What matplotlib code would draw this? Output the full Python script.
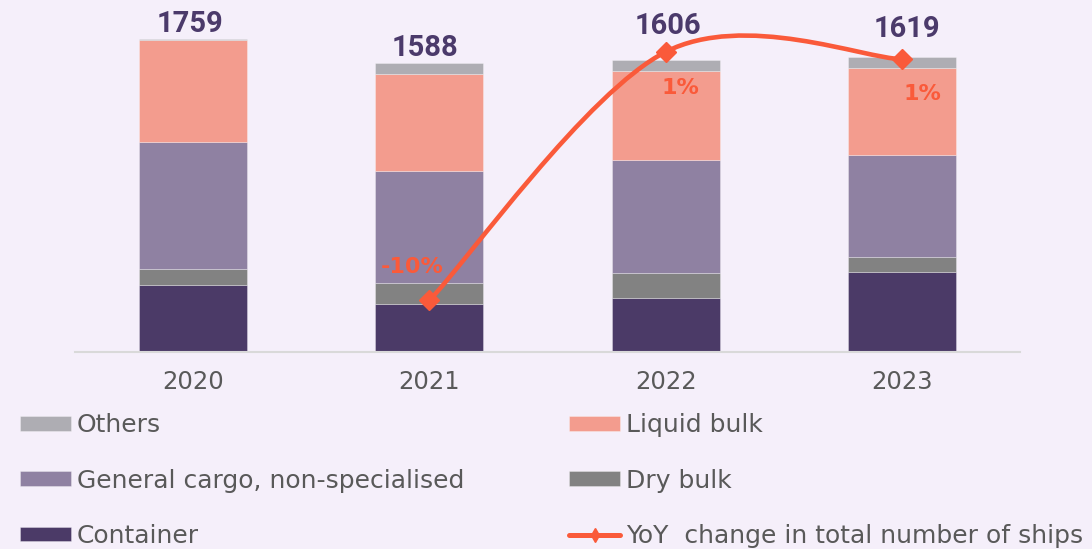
import matplotlib

matplotlib.use("Agg")
import matplotlib.pyplot as plt
from matplotlib.lines import Line2D
from matplotlib.patches import PathPatch
from matplotlib.path import Path

plt.rcParams["font.family"] = ["DejaVu Sans"]

years = ["2020", "2021", "2022", "2023"]
container = [368, 264, 297, 440]
dry_bulk = [88, 116, 138, 83]
general_cargo = [699, 616, 622, 561]
liquid_bulk = [561, 534, 490, 479]
others = [6, 60, 60, 60]
totals = [1759, 1588, 1606, 1619]
yoy_years = [1, 2, 3]
yoy_change = [-9.72, 1.13, 0.81]
yoy_labels = ["-10%", "1%", "1%"]

BG = "#F5EFFA"
SERIES = [
    ("Container", container, "#4B3A67"),
    ("Dry bulk", dry_bulk, "#828282"),
    ("General cargo, non-specialised", general_cargo, "#8F81A2"),
    ("Liquid bulk", liquid_bulk, "#F39C8E"),
    ("Others", others, "#AEADB3"),
]
LINE_COLOR = "#FA5A3A"
# label offsets in pixels (dx, dy)
TOTAL_OFFSETS = [(-3, 1), (-4, 1), (2, 20), (5, 14)]
YOY_OFFSETS = [(-17, 33), (15, -36), (21, -35)]
PT = 0.72  # pixels -> points at 100 dpi


def smooth_path(xs, ys):
    # Bezier curve through the points, similar to a spreadsheet "smoothed line"
    verts = [(xs[0], ys[0])]
    codes = [Path.MOVETO]
    n = len(xs)
    for i in range(n - 1):
        x0, y0 = (xs[i - 1], ys[i - 1]) if i > 0 else (xs[i], ys[i])
        x1, y1 = xs[i], ys[i]
        x2, y2 = xs[i + 1], ys[i + 1]
        x3, y3 = (xs[i + 2], ys[i + 2]) if i + 2 < n else (x2, y2)
        c1 = (x1 + (x2 - x0) / 6, y1 + (y2 - y0) / 6)
        c2 = (x2 - (x3 - x1) / 6, y2 - (y3 - y1) / 6)
        verts += [c1, c2, (x2, y2)]
        codes += [Path.CURVE4] * 3
    return Path(verts, codes)


fig = plt.figure(figsize=(10.92, 5.49), dpi=100, facecolor=BG)
ax = fig.add_axes([0.0687, 0.3588, 0.8653, 0.623])
ax.set_facecolor(BG)

x = list(range(len(years)))
bottom = [0] * len(years)
handles = {}
for name, values, color in SERIES:
    bars = ax.bar(x, values, width=0.457, bottom=bottom, color=color,
                  edgecolor=(1, 1, 1, 0.35), linewidth=0.6, zorder=2)
    handles[name] = bars
    bottom = [b + v for b, v in zip(bottom, values)]

for xi, top, total, (dx, dy) in zip(x, bottom, totals, TOTAL_OFFSETS):
    ax.annotate(str(total), (xi, top), xytext=(dx * PT, dy * PT),
                textcoords="offset points", ha="center", va="bottom",
                fontsize=21, fontweight="bold", family="Roboto",
                color="#4B3A6B", annotation_clip=False)

ax.set_xlim(-0.5, 3.5)
ax.set_ylim(0, 1881)
ax.set_xticks(x)
ax.set_xticklabels(years, fontsize=17.5, color="#595959")
ax.tick_params(axis="x", length=0, pad=13)
ax.set_yticks([])
for side in ["top", "right", "left"]:
    ax.spines[side].set_visible(False)
ax.spines["bottom"].set_color("#D9D9D9")
ax.spines["bottom"].set_linewidth(1.5)

ax2 = ax.twinx()
ax2.set_ylim(-11.97, 2.96)
ax2.set_yticks([])
for side in ["top", "right", "left", "bottom"]:
    ax2.spines[side].set_visible(False)
ax2.add_patch(PathPatch(smooth_path(yoy_years, yoy_change), facecolor="none",
                        edgecolor=LINE_COLOR, linewidth=3.3, zorder=3,
                        capstyle="round"))
ax2.plot(yoy_years, yoy_change, linestyle="none", marker="D", markersize=10.5,
         color=LINE_COLOR, zorder=4)
for xi, yi, lab, (dx, dy) in zip(yoy_years, yoy_change, yoy_labels, YOY_OFFSETS):
    ax2.annotate(lab, (xi, yi), xytext=(dx * PT, dy * PT),
                 textcoords="offset points", ha="center", va="center",
                 fontsize=16, fontweight="bold", color=LINE_COLOR)

line_handle = Line2D([], [], color=LINE_COLOR, linewidth=3.6, marker="d",
                     markersize=7, solid_capstyle="round")
order = ["Others", "General cargo, non-specialised", "Container",
         "Liquid bulk", "Dry bulk"]
leg_handles = [handles[n] for n in order] + [line_handle]
leg_labels = order + ["YoY  change in total number of ships"]
fig.legend(leg_handles, leg_labels, loc="upper left",
           bbox_to_anchor=(0.018, 0.247), ncol=2, frameon=False,
           fontsize=18, labelcolor="#595959", handlelength=2.04,
           handleheight=0.52, handletextpad=0.24, columnspacing=4.2,
           labelspacing=1.25, borderaxespad=0, borderpad=0)

fig.savefig("out.png", dpi=100, facecolor=BG)
